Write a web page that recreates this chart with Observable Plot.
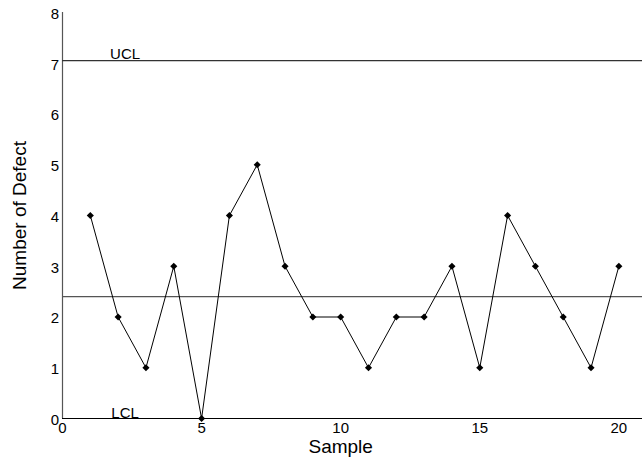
<!DOCTYPE html>
<html>
<head>
<meta charset="utf-8">
<script src="https://cdn.jsdelivr.net/npm/d3@7"></script>
<script src="https://cdn.jsdelivr.net/npm/@observablehq/plot@0.6"></script>
<style>
  html, body { margin: 0; padding: 0; background: #fff; }
</style>
</head>
<body>
<div id="chart"></div>
<script>
const samples = [1, 2, 3, 4, 5, 6, 7, 8, 9, 10, 11, 12, 13, 14, 15, 16, 17, 18, 19, 20];
const defects = [4, 2, 1, 3, 0, 4, 5, 3, 2, 2, 1, 2, 2, 3, 1, 4, 3, 2, 1, 3];
const centerLine = 2.4;
const ucl = 7.05;
const lcl = 0;
const xTicks = [0, 5, 10, 15, 20];
const yTicks = [0, 1, 2, 3, 4, 5, 6, 7, 8];
const limitLabels = ["UCL", "LCL"];
const xTitle = "Sample";
const yTitle = "Number of Defect";

const data = samples.map((s, i) => ({sample: s, defects: defects[i]}));

const chart = Plot.plot({
  width: 642,
  height: 465,
  marginLeft: 62,
  marginRight: 0,
  marginTop: 12,
  marginBottom: 47,
  style: {fontFamily: "'Liberation Sans', Arial, Helvetica, sans-serif", background: "#fff", color: "#000"},
  x: {domain: [0, 20.85]},
  y: {domain: [0, 8]},
  marks: [
    Plot.axisX({ticks: xTicks, tickSize: 0, tickPadding: 4, fontSize: 15, label: null}),
    Plot.axisY({ticks: yTicks, tickSize: 0, tickPadding: 3.5, fontSize: 15, label: null, dy: 1.5}),
    Plot.ruleX([0], {y1: 0, y2: 8, stroke: "#555", strokeWidth: 1.2}),
    Plot.ruleY([centerLine], {stroke: "#555", strokeWidth: 1.2}),
    Plot.ruleY([ucl], {stroke: "#333", strokeWidth: 1.2}),
    Plot.ruleY([lcl], {stroke: "#000", strokeWidth: 1.2}),
    Plot.text([limitLabels[0]], {x: 2.25, y: ucl, text: d => d, fontSize: 15, lineAnchor: "bottom", dy: -2}),
    Plot.text([limitLabels[1]], {x: 2.25, y: lcl, text: d => d, fontSize: 15, lineAnchor: "bottom", dy: -1}),
    Plot.line(data, {x: "sample", y: "defects", stroke: "#000", strokeWidth: 1}),
    Plot.dot(data, {x: "sample", y: "defects", symbol: "diamond2", r: 3.2, fill: "#000", stroke: "none"}),
    Plot.text([xTitle], {x: 10, frameAnchor: "bottom", text: d => d, fontSize: 19, lineAnchor: "middle", dy: 28}),
    Plot.text([yTitle], {frameAnchor: "left", text: d => d, fontSize: 19, rotate: -90, textAnchor: "middle", lineAnchor: "middle", dx: -43})
  ]
});
document.getElementById("chart").appendChild(chart);
</script>
</body>
</html>
